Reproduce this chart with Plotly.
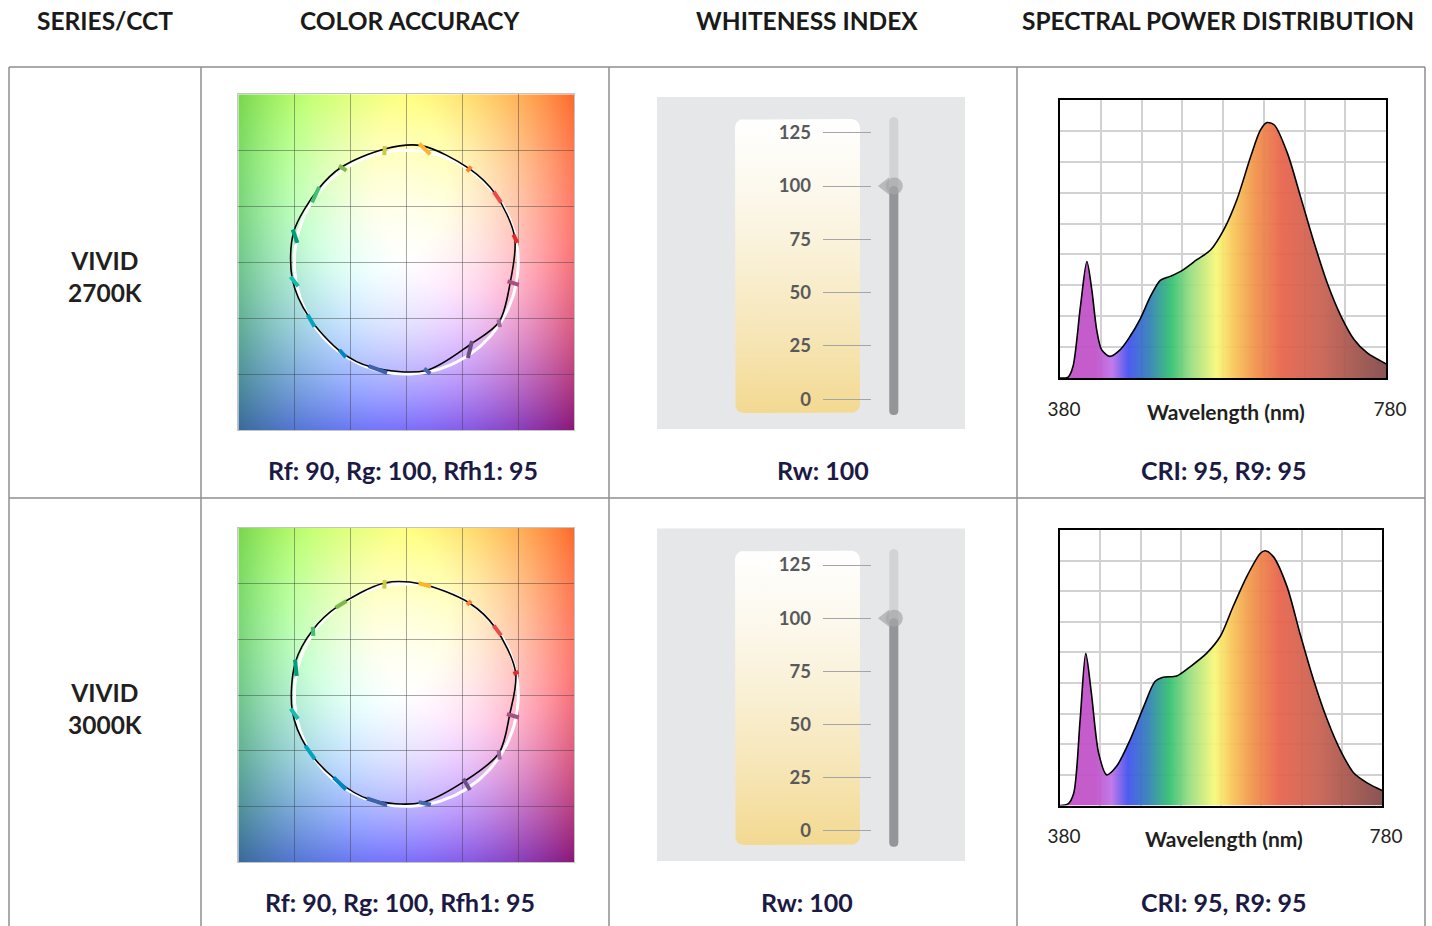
import base64
import struct
import zlib

import numpy as np
import plotly.graph_objects as go

W, H = 1432, 926

# ------------------------------------------------------------------ data
headers = ["SERIES/CCT", "COLOR ACCURACY", "WHITENESS INDEX", "SPECTRAL POWER DISTRIBUTION"]
row_series = ["VIVID", "VIVID"]
row_cct = ["2700K", "3000K"]
rf_vals = [90, 90]
rg_vals = [100, 100]
rfh1_vals = [95, 95]
rw_vals = [100, 100]
cri_vals = [95, 95]
r9_vals = [95, 95]

whiteness_ticks = [0, 25, 50, 75, 100, 125]

# TM-30 colour vector graphic: 16 hue bins, reference circle radius 2 grid units
hue_bin_colors = ["#e62828", "#e74b4b", "#fb812e", "#ffb529", "#cbca46", "#7eb94c",
                  "#41c06d", "#009c7c", "#16bcb0", "#00a4bf", "#0085c3", "#3b62aa",
                  "#4568ae", "#6a4e85", "#9d69a1", "#a74f81"]
ref_radius = 2.0
test_x_2700 = [1.935, 1.589, 1.131, 0.268, -0.387, -1.161, -1.577, -2.012,
               -2.036, -1.738, -1.161, -0.625, 0.357, 1.161, 1.655, 1.857]
test_y_2700 = [0.446, 1.220, 1.667, 2.083, 2.024, 1.696, 1.298, 0.536,
               -0.298, -0.982, -1.607, -1.875, -1.935, -1.458, -1.071, -0.357]
test_x_3000 = [1.952, 1.589, 1.131, 0.268, -0.387, -1.220, -1.667, -1.982,
               -2.036, -1.774, -1.262, -0.655, 0.268, 1.042, 1.655, 1.845]
test_y_3000 = [0.405, 1.208, 1.649, 1.994, 2.012, 1.595, 1.173, 0.583,
               -0.286, -0.952, -1.518, -1.875, -1.935, -1.548, -1.042, -0.357]

# Spectral power distribution (relative units)
wl_2700 = [380, 390, 396, 405, 413, 419, 425, 431, 441, 454, 466, 478, 491, 503, 515, 528,
           548, 565, 581, 597, 614, 626, 634, 643, 659, 675, 692, 708, 725, 741, 757, 780]
spd_2700 = [0, 0.3, 3.8, 23, 37.7, 28.6, 15.6, 9.2, 7.0, 9.2, 13.5, 18.9, 26.4, 31.6, 32.9, 34.5,
            38.3, 41.5, 48, 57.7, 71.7, 80.3, 82.7, 81.9, 72.8, 58.8, 43.6, 30.7, 19.9, 12.4, 8.1, 4.6]
wl_3000 = [380, 390, 397, 405, 412, 419, 428, 438, 450, 467, 484, 498, 508, 525, 542,
           562, 579, 595, 612, 629, 635, 645, 662, 678, 695, 712, 728, 745, 762, 780]
spd_3000 = [0, 0.5, 4, 28, 49.7, 36.7, 17.1, 10, 12.7, 21.4, 32.3, 40.5, 41.9, 42.3, 45.4,
            49.7, 55.2, 65, 74.8, 82.4, 83.2, 81.3, 71.5, 56.3, 41, 28, 18.2, 10.6, 7.3, 4.9]

# ------------------------------------------------------------------ styles
LINE_GRAY = "#8e8e8e"
TXT_DARK = "#231f20"
NAVY = "#1c1a44"
HEAD_FONT = "Lato"
SPD_FONT = "Lato"

spectrum_cs = [
    [0.000, "rgba(192,80,200,0.93)"], [0.110, "rgba(192,80,200,0.93)"],
    [0.160, "rgba(190,112,232,0.93)"], [0.210, "rgba(64,80,240,0.93)"],
    [0.275, "rgba(48,128,180,0.93)"], [0.340, "rgba(48,192,112,0.93)"],
    [0.400, "rgba(150,220,128,0.93)"], [0.480, "rgba(248,248,120,0.93)"],
    [0.530, "rgba(248,200,88,0.93)"], [0.600, "rgba(240,144,72,0.93)"],
    [0.680, "rgba(232,98,74,0.93)"], [0.800, "rgba(200,96,80,0.93)"],
    [1.000, "rgba(128,72,72,0.93)"],
]


def fx(p):
    return p / W


def fy(p):
    return 1 - p / H


# ------------------------------------------------------------------ colour plane image
def plane_png(n=200):
    ctrl = np.array([
        [[122, 214, 78], [255, 255, 125], [248, 106, 46]],
        [[112, 198, 138], [255, 255, 255], [245, 112, 118]],
        [[58, 106, 152], [122, 110, 248], [138, 24, 120]],
    ], dtype=float)
    t = (np.arange(n) + 0.5) / n * 2 - 1
    L = np.stack([t * (t - 1) / 2, 1 - t ** 2, t * (t + 1) / 2])
    img = np.einsum("in,jm,ijc->nmc", L, L, ctrl)
    # soft white glow around the neutral centre
    rr = np.hypot(t[None, :], t[:, None]) * 3
    wgt = (0.3 * np.exp(-(rr / 1.7) ** 2))[..., None]
    img = img * (1 - wgt) + 255 * wgt
    img = np.clip(img, 0, 255).astype(np.uint8)
    raw = b"".join(b"\x00" + img[i].tobytes() for i in range(n))

    def chunk(tag, data):
        return (struct.pack(">I", len(data)) + tag + data +
                struct.pack(">I", zlib.crc32(tag + data) & 0xFFFFFFFF))

    png = (b"\x89PNG\r\n\x1a\n" +
           chunk(b"IHDR", struct.pack(">IIBBBBB", n, n, 8, 2, 0, 0, 0)) +
           chunk(b"IDAT", zlib.compress(raw, 9)) + chunk(b"IEND", b""))
    return "data:image/png;base64," + base64.b64encode(png).decode()


PLANE = plane_png()


def rrect_path(x0, x1, y0, y1, rx, ry):
    # y0 bottom, y1 top
    return (f"M{x0 + rx},{y1} L{x1 - rx},{y1} Q{x1},{y1} {x1},{y1 - ry} "
            f"L{x1},{y0 + ry} Q{x1},{y0} {x1 - rx},{y0} L{x0 + rx},{y0} "
            f"Q{x0},{y0} {x0},{y0 + ry} L{x0},{y1 - ry} Q{x0},{y1} {x0 + rx},{y1} Z")


def text_ann(text, xc, yc, size, color, weight=700, family=HEAD_FONT):
    return dict(text=text, x=fx(xc), y=fy(yc), xref="paper", yref="paper", showarrow=False,
                xanchor="center", yanchor="middle",
                font=dict(family=family, size=size, color=color, weight=weight))


fig = go.Figure()
layout = {}
shapes = []
annotations = []
images = []

# ------------------------------------------------------------------ table frame
tbl_top, tbl_mid = 67, 498
for xv in [9, 201, 609, 1017, 1425]:
    shapes.append(dict(type="line", xref="paper", yref="paper", x0=fx(xv), x1=fx(xv),
                       y0=fy(tbl_top), y1=fy(H + 5), line=dict(color=LINE_GRAY, width=1.5)))
for yv in [tbl_top, tbl_mid]:
    shapes.append(dict(type="line", xref="paper", yref="paper", x0=fx(9), x1=fx(1425),
                       y0=fy(yv), y1=fy(yv), line=dict(color=LINE_GRAY, width=1.5)))

head_x = [105, 410, 807, 1218]
for txt, xc in zip(headers, head_x):
    annotations.append(text_ann(txt, xc, 20, 24.5, "#1a1a1a"))

# ------------------------------------------------------------------ per-row geometry
rows = [
    dict(label_y=276, ca_y=(94.3, 430), wh_y=(97, 429), zero_px=399.3, ppu=2.133,
         card_y=(119, 413), track_y=(117.3, 415), spd_x=(1060, 1386), spd_y=(100, 378),
         bot_y=470, rf_x=403, rw_x=823, cri_x=1224,
         tx=test_x_2700, ty=test_y_2700, wl=wl_2700, spd=spd_2700),
    dict(label_y=708, ca_y=(528, 862), wh_y=(528.5, 861), zero_px=830.7, ppu=2.1256,
         card_y=(550.7, 845), track_y=(549.3, 846.7), spd_x=(1060, 1382), spd_y=(530, 805.5),
         bot_y=902, rf_x=400, rw_x=807, cri_x=1224,
         tx=test_x_3000, ty=test_y_3000, wl=wl_3000, spd=spd_3000),
]


def xa(k):
    return "x" if k == 1 else f"x{k}"


def ya(k):
    return "y" if k == 1 else f"y{k}"


def xl(k):
    return "xaxis" if k == 1 else f"xaxis{k}"


def yl(k):
    return "yaxis" if k == 1 else f"yaxis{k}"


for r, g in enumerate(rows):
    ca, wh, sp = 3 * r + 1, 3 * r + 2, 3 * r + 3

    # --- row label
    annotations.append(text_ann(f"{row_series[r]}<br>{row_cct[r]}", 105, g["label_y"], 24.5, TXT_DARK))

    # --- colour accuracy vector graphic
    common_ca = dict(range=[-3, 3], tickvals=[-2, -1, 0, 1, 2], showticklabels=False, ticks="",
                     showgrid=True, gridcolor="rgba(60,60,60,0.45)", gridwidth=1,
                     zeroline=False, showline=True, mirror=True, linecolor="#c4c4c4",
                     linewidth=1, fixedrange=True, automargin=False)
    layout[xl(ca)] = dict(domain=[fx(238.3), fx(574.3)], anchor=ya(ca), **common_ca)
    layout[yl(ca)] = dict(domain=[fy(g["ca_y"][1]), fy(g["ca_y"][0])], anchor=xa(ca), **common_ca)
    images.append(dict(source=PLANE, xref=xa(ca), yref=ya(ca), x=-3, y=3, sizex=6, sizey=6,
                       sizing="stretch", xanchor="left", yanchor="top", layer="below"))

    th = np.linspace(0, 2 * np.pi, 181)
    fig.add_trace(go.Scatter(x=ref_radius * np.cos(th), y=ref_radius * np.sin(th), mode="lines",
                             line=dict(color="white", width=3), xaxis=xa(ca), yaxis=ya(ca),
                             hoverinfo="skip", showlegend=False))
    cx = list(g["tx"]) + [g["tx"][0]]
    cy = list(g["ty"]) + [g["ty"][0]]
    fig.add_trace(go.Scatter(x=cx, y=cy, mode="lines", line=dict(color="black", width=1.6,
                             shape="spline", smoothing=0.9), xaxis=xa(ca), yaxis=ya(ca),
                             hoverinfo="skip", showlegend=False))
    for i in range(16):
        ang = np.deg2rad((i + 0.5) * 22.5)
        rx0, ry0 = ref_radius * np.cos(ang), ref_radius * np.sin(ang)
        tx0, ty0 = g["tx"][i], g["ty"][i]
        dx, dy = tx0 - rx0, ty0 - ry0
        d = np.hypot(dx, dy)
        if d < 0.03:
            ux, uy = np.cos(ang), np.sin(ang)
        else:
            ux, uy = dx / d, dy / d
        e = 0.05
        fig.add_trace(go.Scatter(x=[rx0 - ux * e, tx0 + ux * e], y=[ry0 - uy * e, ty0 + uy * e],
                                 mode="lines", line=dict(color=hue_bin_colors[i], width=4),
                                 xaxis=xa(ca), yaxis=ya(ca), hoverinfo="skip", showlegend=False))

    annotations.append(text_ann(f"Rf: {rf_vals[r]}, Rg: {rg_vals[r]}, Rfh1: {rfh1_vals[r]}",
                                g["rf_x"], g["bot_y"], 25, NAVY))

    # --- whiteness index slider
    z0, ppu = g["zero_px"], g["ppu"]

    def val(p, z0=z0, ppu=ppu):
        return (z0 - p) / ppu

    layout[xl(wh)] = dict(domain=[fx(657), fx(965)], range=[657, 965], anchor=ya(wh),
                          visible=False, fixedrange=True, automargin=False)
    layout[yl(wh)] = dict(domain=[fy(g["wh_y"][1]), fy(g["wh_y"][0])],
                          range=[val(g["wh_y"][1]), val(g["wh_y"][0])],
                          anchor="free", position=fx(822), side="left",
                          tickvals=whiteness_ticks,
                          ticktext=[f"<b>{v}</b>" for v in whiteness_ticks],
                          ticks="inside", ticklen=48, tickwidth=1,
                          tickcolor="#a3a5a8", showline=False, showgrid=False, zeroline=False,
                          ticklabelstandoff=11, automargin=False,
                          tickfont=dict(family=HEAD_FONT, size=18.5, color="#58595b"),
                          fixedrange=True)
    shapes.append(dict(type="rect", xref="paper", yref="paper", x0=fx(657), x1=fx(965),
                       y0=fy(g["wh_y"][1]), y1=fy(g["wh_y"][0]), fillcolor="#e6e7e8",
                       line=dict(width=0), layer="below"))
    # card with warm-white gradient
    cx0, cx1 = 735, 860
    cyb, cyt = val(g["card_y"][1]), val(g["card_y"][0])
    rad = 9
    ryv = rad / ppu
    tt = np.linspace(0, np.pi / 2, 10)
    px, py = [], []
    for (ccx, ccy, a0) in [(cx1 - rad, cyt - ryv, 0), (cx0 + rad, cyt - ryv, np.pi / 2),
                           (cx0 + rad, cyb + ryv, np.pi), (cx1 - rad, cyb + ryv, 1.5 * np.pi)]:
        px += list(ccx + rad * np.cos(a0 + tt))
        py += list(ccy + ryv * np.sin(a0 + tt))
    px.append(px[0])
    py.append(py[0])
    fig.add_trace(go.Scatter(x=px, y=py, mode="lines", line=dict(width=0), fill="toself",
                             fillgradient=dict(type="vertical", start=cyb, stop=cyt,
                                               colorscale=[[0, "#f3d991"], [0.25, "#f6e5b5"],
                                                           [0.5, "#f9efd3"], [0.75, "#fcf8ec"],
                                                           [1, "#ffffff"]]),
                             xaxis=xa(wh), yaxis=ya(wh), hoverinfo="skip", showlegend=False))
    # slider track
    tx0_, tx1_ = 889.3, 898.3
    tb, tt_ = val(g["track_y"][1]), val(g["track_y"][0])
    shapes.append(dict(type="path", xref=xa(wh), yref=ya(wh), layer="below",
                       path=rrect_path(tx0_, tx1_, tb, tt_, 4.5, 4.5 / ppu),
                       fillcolor="#d1d3d4", line=dict(width=0)))
    shapes.append(dict(type="path", xref=xa(wh), yref=ya(wh), layer="below",
                       path=rrect_path(tx0_, tx1_, tb, rw_vals[r], 4.5, 4.5 / ppu),
                       fillcolor="#939598", line=dict(width=0)))
    fig.add_trace(go.Scatter(x=[885.4, 894.3], y=[rw_vals[r], rw_vals[r]], mode="markers",
                             marker=dict(symbol=["triangle-left", "circle"], size=[15, 17],
                                         color="#a4a6a9", line=dict(width=0)),
                             xaxis=xa(wh), yaxis=ya(wh), hoverinfo="skip", showlegend=False))
    annotations.append(text_ann(f"Rw: {rw_vals[r]}", g["rw_x"], g["bot_y"], 25, NAVY))

    # --- spectral power distribution
    layout[xl(sp)] = dict(domain=[fx(g["spd_x"][0]), fx(g["spd_x"][1])], range=[380, 780],
                          anchor=ya(sp), tickvals=[380, 780], ticktext=["380", "780"], ticks="",
                          showgrid=False, zeroline=False, showline=True, mirror=True,
                          linecolor="black", linewidth=1.5, ticklabelstandoff=13,
                          ticklabelshift=4, automargin=False,
                          tickfont=dict(family=SPD_FONT, size=19, color=TXT_DARK),
                          minor=dict(tick0=380, dtick=50, showgrid=True, gridcolor="#d2d2d2",
                                     gridwidth=1.5, ticks=""),
                          fixedrange=True)
    layout[yl(sp)] = dict(domain=[fy(g["spd_y"][1]), fy(g["spd_y"][0])], range=[0, 90],
                          anchor=xa(sp), dtick=10, showticklabels=False, ticks="",
                          showgrid=True, gridcolor="#d2d2d2", gridwidth=1.5, zeroline=False,
                          showline=True, mirror=True, linecolor="black", linewidth=1.5,
                          fixedrange=True, automargin=False)
    fig.add_trace(go.Scatter(x=g["wl"], y=g["spd"], mode="lines",
                             line=dict(color="black", width=1.6, shape="spline", smoothing=0.8),
                             fill="tozeroy",
                             fillgradient=dict(type="horizontal", start=380, stop=780,
                                               colorscale=spectrum_cs),
                             xaxis=xa(sp), yaxis=ya(sp), hoverinfo="skip", showlegend=False))
    annotations.append(text_ann("Wavelength (nm)", (g["spd_x"][0] + g["spd_x"][1]) / 2 + 3,
                                g["spd_y"][1] + 33, 21, TXT_DARK, family=SPD_FONT))
    annotations.append(text_ann(f"CRI: {cri_vals[r]}, R9: {r9_vals[r]}", g["cri_x"], g["bot_y"],
                                25, NAVY))

fig.update_layout(
    template="none",
    width=W, height=H, margin=dict(l=0, r=0, t=0, b=0, pad=0, autoexpand=False),
    paper_bgcolor="white", plot_bgcolor="rgba(0,0,0,0)",
    showlegend=False, shapes=shapes, annotations=annotations, images=images,
    **layout,
)

fig.write_html("out.html", config={"displayModeBar": False},
               post_script="document.body.style.margin='0';document.body.style.overflow='hidden';")
